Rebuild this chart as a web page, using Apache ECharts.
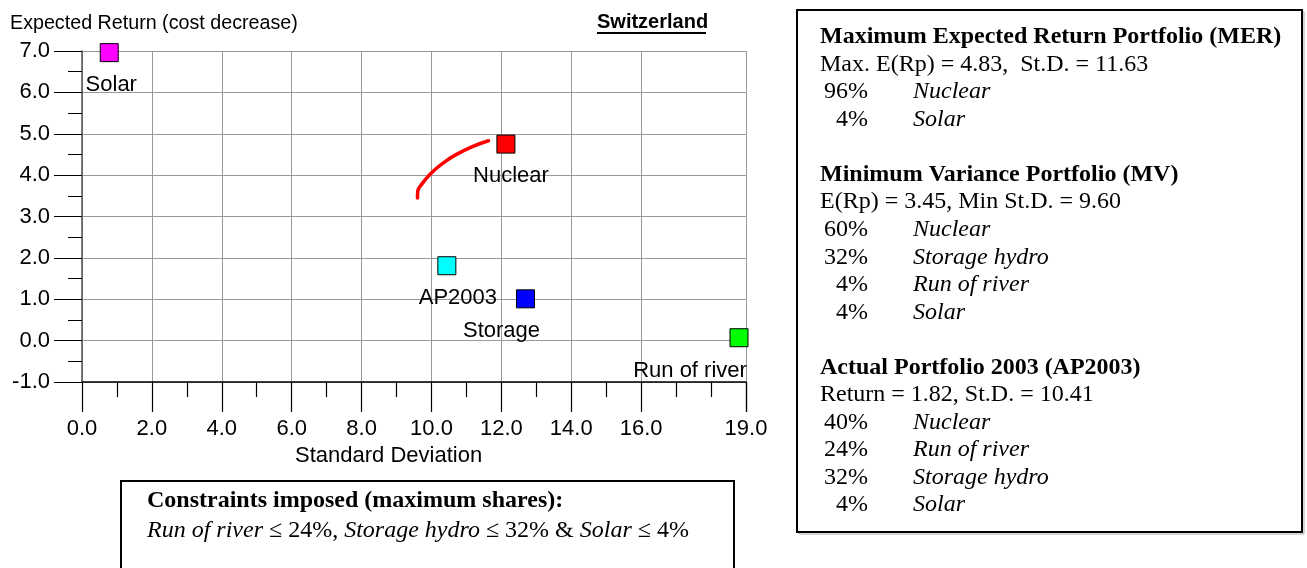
<!DOCTYPE html>
<html>
<head>
<meta charset="utf-8">
<script src="https://cdn.jsdelivr.net/npm/echarts@6/dist/echarts.min.js"></script>
<style>
html,body{margin:0;padding:0;background:#fff;}
#chart{width:1307px;height:568px;}
</style>
</head>
<body>
<div id="chart"></div>
<script>
// ---- data ----
const categories = ['Solar', 'Nuclear', 'AP2003', 'Storage', 'Run of river'];
const stdDev = [0.78, 12.13, 10.44, 12.69, 18.80];
const expReturn = [6.96, 4.75, 1.81, 1.01, 0.07];
const pointColors = ['#ff00ff', '#ff0000', '#00ffff', '#0000ff', '#00ff00'];

const frontierSd = [9.60, 9.61, 9.74, 9.98, 10.31, 10.69, 11.17, 11.63];
const frontierRet = [3.45, 3.62, 3.80, 4.04, 4.28, 4.49, 4.69, 4.83];

const xTickValues = [0, 2, 4, 6, 8, 10, 12, 14, 16, 19];
const xMinorTickValues = [1, 3, 5, 7, 9, 11, 13, 15, 17, 18];
const xEndTickValues = [18.995];
const yMin = -1, yMax = 7, yStep = 1;

const yAxisTitle = 'Expected Return (cost decrease)';
const xAxisTitle = 'Standard Deviation';
const countryTitle = 'Switzerland';

const merTitle = 'Maximum Expected Return Portfolio (MER)';
const merStats = 'Max. E(Rp) = 4.83,  St.D. = 11.63';
const merShares = ['96%', '4%'];
const merTech = ['Nuclear', 'Solar'];

const mvTitle = 'Minimum Variance Portfolio (MV)';
const mvStats = 'E(Rp) = 3.45, Min St.D. = 9.60';
const mvShares = ['60%', '32%', '4%', '4%'];
const mvTech = ['Nuclear', 'Storage hydro', 'Run of river', 'Solar'];

const apTitle = 'Actual Portfolio 2003 (AP2003)';
const apStats = 'Return = 1.82, St.D. = 10.41';
const apShares = ['40%', '24%', '32%', '4%'];
const apTech = ['Nuclear', 'Run of river', 'Storage hydro', 'Solar'];

const constraintsTitle = 'Constraints imposed (maximum shares):';
const constraintsParts = [['i', 'Run of river'], ['n', ' \u2264 24%, '], ['i', 'Storage hydro'], ['n', ' \u2264 32% & '], ['i', 'Solar'], ['n', ' \u2264 4%']];

// ---- styles ----
const labelOffsets = [[2, 32], [5, 32], [11, 32], [-24, 32], [-49, 33]];
const SANS = 'Liberation Sans, Arial, sans-serif';
const SERIF = 'Liberation Serif, Times New Roman, serif';

const chart = echarts.init(document.getElementById('chart'), null, {renderer: 'canvas'});

const scatterData = categories.map((c, i) => ({
  name: c,
  value: [stdDev[i], expReturn[i]],
  itemStyle: {color: pointColors[i], borderColor: '#000', borderWidth: 1, opacity: 1},
  label: {offset: labelOffsets[i]}
}));

// right box text
const graphics = [];
const boxLeft = 797, boxTop = 10, boxW = 505, boxH = 522;
graphics.push({type: 'rect', shape: {x: boxLeft + 2, y: boxTop + 2, width: boxW, height: boxH}, style: {fill: 'none', stroke: '#aaa', lineWidth: 1}, z: 1});
graphics.push({type: 'rect', shape: {x: boxLeft, y: boxTop, width: boxW, height: boxH}, style: {fill: '#fff', stroke: '#000', lineWidth: 2}, z: 2});

const lines = [];
function addBlock(title, stats, shares, tech) {
  lines.push({kind: 'title', text: title});
  lines.push({kind: 'stats', text: stats});
  shares.forEach((s, i) => lines.push({kind: 'row', share: s, tech: tech[i]}));
}
addBlock(merTitle, merStats, merShares, merTech);
lines.push({kind: 'blank'});
addBlock(mvTitle, mvStats, mvShares, mvTech);
lines.push({kind: 'blank'});
addBlock(apTitle, apStats, apShares, apTech);

const lineY0 = 37, lineH = 27.53, textX = 820, shareRight = 868, techX = 913, boxFont = 24;
lines.forEach((ln, i) => {
  const y = lineY0 + i * lineH;
  if (ln.kind === 'title') {
    graphics.push({type: 'text', x: textX, y: y, z: 3, style: {text: ln.text, font: 'bold ' + boxFont + 'px ' + SERIF, fill: '#000', textAlign: 'left', textVerticalAlign: 'middle'}});
  } else if (ln.kind === 'stats') {
    graphics.push({type: 'text', x: textX, y: y, z: 3, style: {text: ln.text, font: boxFont + 'px ' + SERIF, fill: '#000', textAlign: 'left', textVerticalAlign: 'middle'}});
  } else if (ln.kind === 'row') {
    graphics.push({type: 'text', x: shareRight, y: y, z: 3, style: {text: ln.share, font: boxFont + 'px ' + SERIF, fill: '#000', textAlign: 'right', textVerticalAlign: 'middle'}});
    graphics.push({type: 'text', x: techX, y: y, z: 3, style: {text: ln.tech, font: 'italic ' + boxFont + 'px ' + SERIF, fill: '#000', textAlign: 'left', textVerticalAlign: 'middle'}});
  }
});

// bottom box
graphics.push({type: 'rect', shape: {x: 121, y: 481, width: 613, height: 120}, style: {fill: '#fff', stroke: '#000', lineWidth: 2}, z: 2});
graphics.push({type: 'text', x: 147, y: 501, z: 3, style: {text: constraintsTitle, font: 'bold 24px ' + SERIF, fill: '#000', textAlign: 'left', textVerticalAlign: 'middle'}});
graphics.push({type: 'text', x: 147, y: 531, z: 3, style: {
  text: constraintsParts.map(p => '{' + p[0] + '|' + p[1] + '}').join(''),
  textAlign: 'left', textVerticalAlign: 'middle',
  rich: {
    i: {font: 'italic 24px ' + SERIF, fill: '#000'},
    n: {font: '24px ' + SERIF, fill: '#000'}
  }
}});

// titles
graphics.push({type: 'text', x: 10, y: 24, z: 3, style: {text: yAxisTitle, font: '19.7px ' + SANS, fill: '#000', textAlign: 'left', textVerticalAlign: 'middle'}});
graphics.push({type: 'text', x: 597, y: 22, z: 3, style: {text: countryTitle, font: 'bold 20px ' + SANS, fill: '#000', textAlign: 'left', textVerticalAlign: 'middle'}});
graphics.push({type: 'rect', shape: {x: 597, y: 32, width: 109, height: 2}, style: {fill: '#000'}, z: 3});
graphics.push({type: 'text', x: 295, y: 456, z: 3, style: {text: xAxisTitle, font: '22px ' + SANS, fill: '#000', textAlign: 'left', textVerticalAlign: 'middle'}});

const option = {
  backgroundColor: '#fff',
  animation: false,
  grid: {left: 82, top: 51, width: 664, height: 331, containLabel: false},
  xAxis: [{
    type: 'value', min: 0, max: 19,
    axisLine: {show: true, onZero: false, lineStyle: {color: '#000', width: 1.5}},
    axisTick: {show: true, customValues: xTickValues, length: 30, lineStyle: {color: '#000', width: 1.2}},
    axisLabel: {show: true, customValues: xTickValues, margin: 36, fontSize: 22, fontFamily: SANS, color: '#000', formatter: v => v.toFixed(1)},
    splitLine: {show: true, lineStyle: {color: '#999', width: 1}}
  }, {
    type: 'value', min: 0, max: 19, position: 'bottom', gridIndex: 0,
    axisLine: {show: false, onZero: false},
    axisTick: {show: true, customValues: xMinorTickValues, length: 15, lineStyle: {color: '#000', width: 1.2}},
    axisLabel: {show: false},
    splitLine: {show: false}
  }, {
    type: 'value', min: 0, max: 19, position: 'bottom', gridIndex: 0,
    axisLine: {show: false, onZero: false},
    axisTick: {show: true, customValues: xEndTickValues, length: 30, lineStyle: {color: '#000', width: 1.2}},
    axisLabel: {show: false},
    splitLine: {show: false}
  }],
  yAxis: {
    type: 'value', min: yMin, max: yMax, interval: yStep,
    axisLine: {show: true, onZero: false, lineStyle: {color: '#555', width: 1.5}},
    axisTick: {show: true, length: 28, lineStyle: {color: '#000', width: 1}},
    minorTick: {show: true, splitNumber: 2, length: 14, lineStyle: {color: '#000', width: 1}},
    axisLabel: {margin: 32, fontSize: 22, fontFamily: SANS, color: '#000', formatter: v => v.toFixed(1)},
    splitLine: {show: true, lineStyle: {color: '#999', width: 1}}
  },
  series: [{
    type: 'line', xAxisIndex: 0,
    data: frontierSd.map((x, i) => [x, frontierRet[i]]),
    smooth: 0.4, showSymbol: false, symbol: 'none',
    lineStyle: {color: '#ff0000', width: 3.5, cap: 'round'},
    z: 3
  }, {
    type: 'scatter', xAxisIndex: 0,
    symbol: 'rect', symbolSize: 18,
    data: scatterData,
    label: {show: true, position: 'inside', formatter: p => p.name, fontSize: 22, fontFamily: SANS, color: '#000', opacity: 1, align: 'center', verticalAlign: 'middle'},
    z: 4
  }],
  graphic: graphics
};
chart.setOption(option);
</script>
</body>
</html>
